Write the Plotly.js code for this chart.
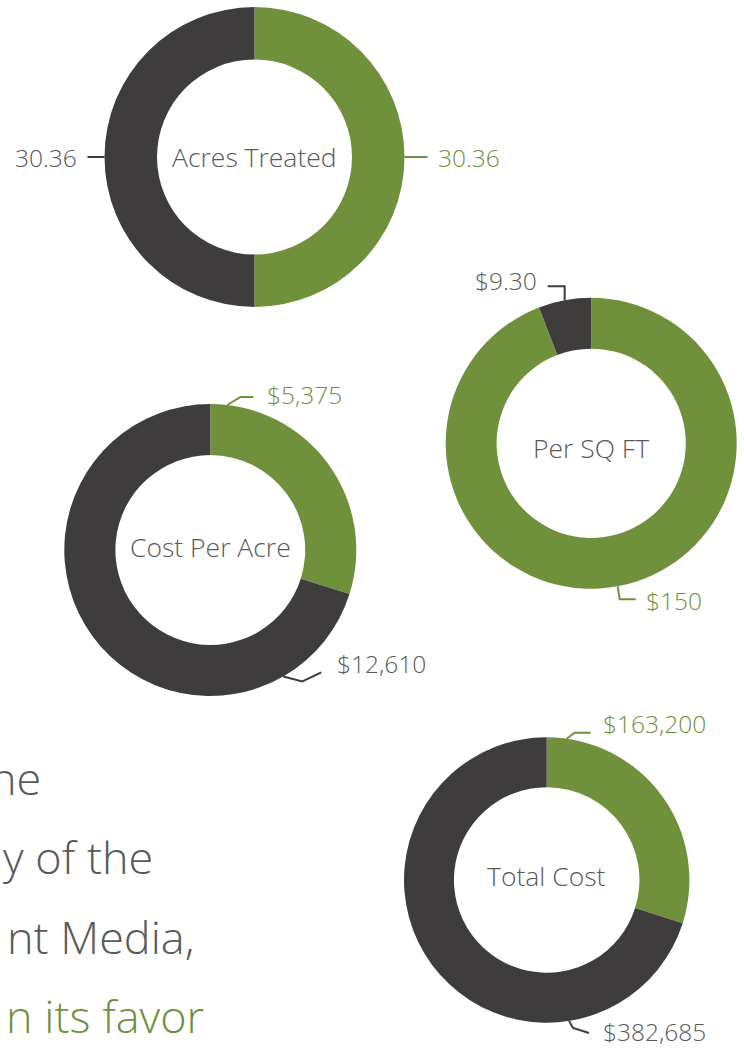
<!DOCTYPE html>
<html><head><meta charset="utf-8">
<script src="https://cdn.plot.ly/plotly-3.0.1.min.js"></script>
<style>html,body{margin:0;padding:0;background:#fff;} #chart{width:744px;height:1048px;}</style>
</head><body><div id="chart"></div>
<script>
// ---- data ----
const chartTitles = ['Acres Treated', 'Per SQ FT', 'Cost Per Acre', 'Total Cost'];
const seriesNames = ['Green option', 'Conventional'];
const greenValues = [30.36, 150, 5375, 163200];
const darkValues = [30.36, 9.30, 12610, 382685];
const greenLabels = ['30.36', '$150', '$5,375', '$163,200'];
const darkLabels = ['30.36', '$9.30', '$12,610', '$382,685'];
const bodyLines = ['ne', 'y of the', 'nt Media,', 'n its favor'];

// ---- style / layout ----
const W = 744, H = 1048;
const GREEN = '#6f913c', DARK = '#3e3c3d', GRAY = '#59595b';
const FONT = '"Open Sans", Lato, sans-serif';
const WEIGHT = 300;
const pies = [
  {cx: 254.5, cy: 157, r: 150, ty: 0},
  {cx: 591.2, cy: 443.3, r: 145.5, ty: 5},
  {cx: 210.3, cy: 550, r: 146, ty: -3},
  {cx: 546.7, cy: 880, r: 142.7, ty: -4}
];
// leader lines: anchor angle (null = slice middle), elbow offsets from anchor, text position relative to last point
const leaders = [
  {g: {ang: null, pts: [[23, 0]], tx: [8, 0], side: 'left'},
   d: {ang: null, pts: [[-17, 0]], tx: [-9, 0], side: 'right'}},
  {g: {ang: null, pts: [[2, 13], [18, 13]], tx: [8, 1], side: 'left'},
   d: {ang: null, pts: [[0, -14], [-17, -14]], tx: [-9, -6], side: 'right'}},
  {g: {ang: 6.7, pts: [[13, -8], [26, -8]], tx: [12, -2], side: 'left'},
   d: {ang: 150, pts: [[19, 5], [38, -4]], tx: [14, -9], side: 'left'}},
  {g: {ang: 8, pts: [[8, -6], [24, -6]], tx: [10, -9], side: 'left'},
   d: {ang: 171, pts: [[4, 7], [20, 12]], tx: [12, -1], side: 'left'}}
];
const bodyY = [777, 856, 936, 1015];
const bodyRight = [43, 155, 196, 206];

const px = x => x / W, py = y => 1 - y / H;

const traces = [], shapes = [], annotations = [];
chartTitles.forEach((t, i) => {
  const p = pies[i];
  traces.push({
    type: 'pie',
    values: [greenValues[i], darkValues[i]],
    labels: seriesNames,
    marker: {colors: [GREEN, DARK], line: {width: 0}},
    hole: 0.65,
    sort: false,
    direction: 'clockwise',
    rotation: 0,
    textinfo: 'none',
    hoverinfo: 'none',
    showlegend: false,
    domain: {x: [px(p.cx - p.r), px(p.cx + p.r)], y: [py(p.cy + p.r), py(p.cy - p.r)]}
  });
  annotations.push({
    text: t, x: px(p.cx), y: py(p.cy + p.ty), xref: 'paper', yref: 'paper',
    xanchor: 'center', yanchor: 'middle', showarrow: false,
    font: {family: FONT, size: 26.5, color: GRAY, weight: WEIGHT}
  });
  const total = greenValues[i] + darkValues[i];
  const gFrac = greenValues[i] / total;
  const mids = {g: gFrac * 180, d: gFrac * 360 + (1 - gFrac) * 180};
  ['g', 'd'].forEach(k => {
    const L = leaders[i][k];
    const ang = (L.ang === null ? mids[k] : L.ang) * Math.PI / 180;
    const ax = p.cx + p.r * Math.sin(ang), ay = p.cy - p.r * Math.cos(ang);
    let path = `M ${px(ax)} ${py(ay)}`;
    let last = [ax, ay];
    L.pts.forEach(o => { last = [ax + o[0], ay + o[1]]; path += ` L ${px(last[0])} ${py(last[1])}`; });
    const col = k === 'g' ? GREEN : DARK;
    shapes.push({type: 'path', xref: 'paper', yref: 'paper', path: path,
      line: {color: col, width: 2}});
    annotations.push({
      text: k === 'g' ? greenLabels[i] : darkLabels[i],
      x: px(last[0] + L.tx[0]), y: py(last[1] + L.tx[1]), xref: 'paper', yref: 'paper',
      xanchor: L.side, yanchor: 'middle', showarrow: false,
      font: {family: FONT, size: 24.5, color: k === 'g' ? GREEN : GRAY, weight: WEIGHT}
    });
  });
});

bodyLines.forEach((t, i) => {
  annotations.push({
    text: t, x: px(bodyRight[i]), y: py(bodyY[i]), xref: 'paper', yref: 'paper',
    xanchor: 'right', yanchor: 'middle', showarrow: false,
    font: {family: FONT, size: 45, color: i === 3 ? GREEN : GRAY, weight: WEIGHT}
  });
});

Plotly.newPlot('chart', traces, {
  width: W, height: H, margin: {l: 0, r: 0, t: 0, b: 0},
  paper_bgcolor: '#fff', plot_bgcolor: '#fff',
  shapes: shapes, annotations: annotations
}, {staticPlot: true});
</script>
</body></html>
